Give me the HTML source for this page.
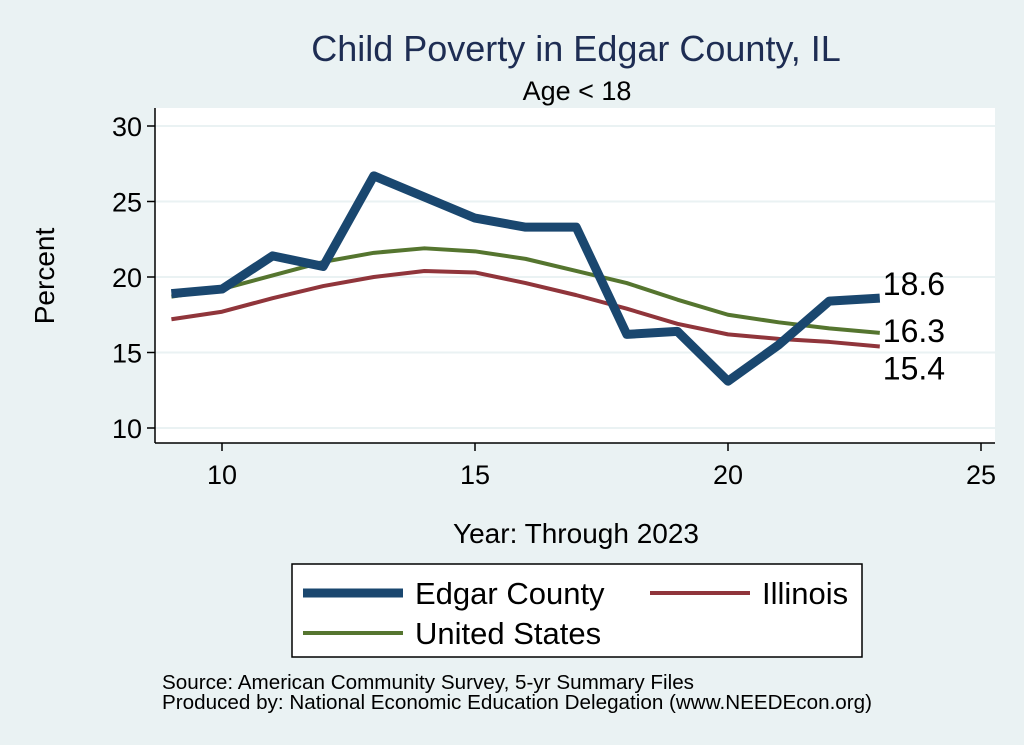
<!DOCTYPE html>
<html><head><meta charset="utf-8"><style>
body{margin:0;background:#eaf2f3;}
svg{display:block;font-family:"Liberation Sans",Arial,sans-serif;}
</style></head><body>
<svg id="chart" width="1024" height="745" viewBox="0 0 1024 745">
<rect x="0" y="0" width="1024" height="745" fill="#eaf2f3"/>
<rect x="155" y="108" width="840" height="335" fill="#ffffff"/>
<text x="576" y="61" font-size="36" fill="#1e2d53" text-anchor="middle">Child Poverty in Edgar County, IL</text>
<text x="577" y="100" font-size="27" fill="#000" text-anchor="middle">Age &lt; 18</text>
<g id="grid"></g>
<g id="axes"></g>
<g id="series"></g>
<g id="labels"></g>
<text x="54" y="276" font-size="28" text-anchor="middle" transform="rotate(-90 54 276)">Percent</text>
<text x="576" y="543" font-size="28" text-anchor="middle">Year: Through 2023</text>
<g>
<rect x="292" y="564" width="570" height="93" fill="#fff" stroke="#000" stroke-width="1.5"/>
<g><line x1="303" y1="593" x2="403" y2="593" stroke="#1a476f" stroke-width="9"/><text x="415" y="604" font-size="31">Edgar County</text></g>
<g><line x1="650" y1="593" x2="750" y2="593" stroke="#90353b" stroke-width="4"/><text x="762" y="604" font-size="31">Illinois</text></g>
<g><line x1="303" y1="633" x2="403" y2="633" stroke="#55752f" stroke-width="4"/><text x="415" y="644" font-size="31">United States</text></g>
</g>
<text x="162" y="689" font-size="20" textLength="532" lengthAdjust="spacingAndGlyphs">Source: American Community Survey, 5-yr Summary Files</text>
<text x="162" y="709" font-size="20" textLength="710" lengthAdjust="spacingAndGlyphs">Produced by: National Economic Education Delegation (www.NEEDEcon.org)</text>
</svg>
<script>
const years=[9,10,11,12,13,14,15,16,17,18,19,20,21,22,23];
const edgar=[18.9,19.2,21.4,20.7,26.7,25.3,23.9,23.3,23.3,16.2,16.4,13.1,15.5,18.4,18.6];
const illinois=[17.2,17.7,18.6,19.4,20.0,20.4,20.3,19.6,18.8,17.9,16.9,16.2,15.9,15.7,15.4];
const us=[18.7,19.2,20.1,21.0,21.6,21.9,21.7,21.2,20.4,19.6,18.5,17.5,17.0,16.6,16.3];
const xTicks=[10,15,20,25];
const yTicks=[10,15,20,25,30];
const NS="http://www.w3.org/2000/svg";
const X=v=>222+(v-10)*50.6;
const Y=v=>428-(v-10)*15.1;
function mk(tag,attrs,parent){const e=document.createElementNS(NS,tag);for(const k in attrs)e.setAttribute(k,attrs[k]);parent.appendChild(e);return e;}
const grid=document.getElementById('grid'),axes=document.getElementById('axes'),ser=document.getElementById('series'),lab=document.getElementById('labels');
yTicks.forEach(t=>{
 const g=mk('line',{x1:155,x2:995,y1:Y(t),y2:Y(t),stroke:'#eaf2f3','stroke-width':2},grid);
 
 
 const tk=mk('line',{x1:147,x2:155,y1:Y(t),y2:Y(t),stroke:'#000','stroke-width':1.5},axes);
 
 
 const tx=mk('text',{x:142,y:Y(t)+10,'font-size':27,'text-anchor':'end'},axes);tx.textContent=t;
 
 
});
xTicks.forEach(t=>{
 const tk=mk('line',{x1:X(t),x2:X(t),y1:443,y2:451,stroke:'#000','stroke-width':1.5},axes);
 
 
 const tx=mk('text',{x:X(t),y:484,'font-size':27,'text-anchor':'middle'},axes);tx.textContent=t;
 
 
});
const ya=mk('line',{x1:155,x2:155,y1:108,y2:443,stroke:'#000','stroke-width':1.5},axes);


const xa=mk('line',{x1:155,x2:995,y1:443,y2:443,stroke:'#000','stroke-width':1.5},axes);


function line(vals,color,w,name){
 const p=mk('polyline',{points:vals.map((v,i)=>X(years[i])+','+Y(v)).join(' '),fill:'none',stroke:color,'stroke-width':w,'stroke-linejoin':'round'},ser);
 
 
}
line(us,'#55752f',4,'line-united-states');
line(illinois,'#90353b',4,'line-illinois');
line(edgar,'#1a476f',9,'line-edgar-county');
const n=years.length-1;
[[edgar[n],Y(edgar[n])-3,'label-edgar'],[us[n],Y(us[n])+9,'label-us'],[illinois[n],Y(illinois[n])+33,'label-illinois']].forEach(([v,yy,nm])=>{
 const t=mk('text',{x:X(years[n])+3,y:yy,'font-size':32},lab);
 t.textContent=v.toFixed(1);
 
 
});
</script>
</body></html>
